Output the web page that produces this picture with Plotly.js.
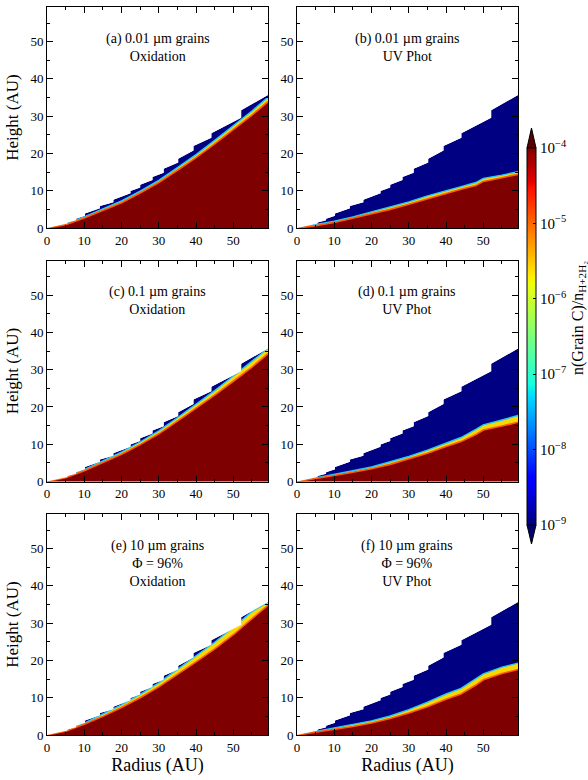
<!DOCTYPE html>
<html><head><meta charset="utf-8">
<script src="https://cdn.plot.ly/plotly-3.0.1.min.js"></script>
<style>html,body{margin:0;padding:0;background:#fff}</style>
</head><body><div id="chart" style="width:588px;height:780px"></div>
<script>
// ---- data ----
// disk surface (top of the model grid), shared by all panels
const surfaceR = [0, 5.5, 5.5, 7.8, 7.8, 10.2, 10.2, 14.2, 14.2, 17.8, 17.8, 22.4, 22.4, 25.0, 25.0, 28.3, 28.3, 31.3, 31.3, 35.2, 35.2, 39.3, 39.3, 44.1, 44.1, 52.1, 52.1, 59.3];
const surfaceZ = [0, 1.2, 1.5, 2.1, 2.5, 3.3, 3.9, 5.3, 5.9, 6.9, 7.6, 9.3, 9.9, 10.9, 11.6, 12.9, 13.7, 14.8, 15.9, 17.6, 18.6, 20.8, 22.0, 24.2, 25.4, 29.6, 31.6, 35.7];

// radii at which the depletion front was read
const radiiOx = [0, 5, 10, 15, 20, 25, 30, 35, 40, 45, 50, 55, 59.3];
const radiiUV = [0, 5, 10, 15, 20, 25, 30, 35, 40, 44, 48, 50, 55, 59.3];

// height where grains are still undepleted (top of dark red) and where full depletion starts (bottom of dark blue)
const lowA  = [0, 0.9, 2.7, 4.7, 6.8, 9.4, 12.2, 15.5, 18.9, 22.6, 26.4, 30.3, 33.9];
const highA = [0, 1.1, 3.0, 5.1, 7.3, 9.9, 12.8, 16.2, 19.7, 23.5, 27.4, 31.4, 35.1];
const lowC  = [0, 1.0, 2.9, 5.0, 7.3, 9.9, 12.8, 16.2, 19.6, 23.2, 26.9, 30.7, 34.3];
const highC = [0, 1.2, 3.2, 5.5, 7.9, 10.6, 13.6, 17.1, 20.7, 24.4, 28.3, 32.2, 35.7];
const lowE  = [0, 1.0, 2.9, 5.0, 7.4, 10.0, 12.9, 16.2, 19.6, 23.1, 26.9, 31.2, 34.8];
const highE = [0, 1.2, 3.2, 5.6, 8.1, 10.9, 14.0, 17.6, 21.3, 24.9, 28.9, 33.1, 35.7];

const lowB  = [0, 0.6, 1.5, 2.6, 3.8, 5.0, 6.4, 7.9, 9.4, 10.4, 11.4, 12.5, 13.5, 14.4];
const highB = [0, 0.8, 1.8, 3.0, 4.3, 5.5, 7.0, 8.6, 10.1, 11.1, 12.2, 13.3, 14.2, 15.1];
const lowD  = [0, 0.7, 1.6, 2.5, 3.4, 4.6, 6.0, 7.6, 9.4, 10.7, 12.6, 13.8, 14.9, 15.9];
const highD = [0, 0.9, 1.9, 2.9, 3.9, 5.2, 6.7, 8.4, 10.4, 11.8, 14.0, 15.2, 16.5, 17.7];
const lowF  = [0, 0.7, 1.5, 2.3, 3.2, 4.4, 5.9, 7.6, 9.6, 11.0, 13.4, 14.8, 16.5, 17.6];
const highF = [0, 0.9, 1.8, 2.8, 3.8, 5.1, 6.8, 8.8, 11.0, 12.5, 15.0, 16.4, 18.2, 19.3];

const panelLabels = [
  "(a) 0.01 µm grains<br>Oxidation",
  "(b) 0.01 µm grains<br>UV Phot",
  "(c) 0.1 µm grains<br>Oxidation",
  "(d) 0.1 µm grains<br>UV Phot",
  "(e) 10 µm grains<br>Φ = 96%<br>Oxidation",
  "(f) 10 µm grains<br>Φ = 96%<br>UV Phot"
];
const axisTicks = [0, 10, 20, 30, 40, 50];
const cbTickVals = [-9, -8, -7, -6, -5, -4];
const cbTickText = ["10<sup>−9</sup>", "10<sup>−8</sup>", "10<sup>−7</sup>", "10<sup>−6</sup>", "10<sup>−5</sup>", "10<sup>−4</sup>"];

// ---- styling ----
const FONT = "Liberation Serif, DejaVu Serif, serif";
const BLUE = "rgb(0,0,130)";
const RED = "rgb(127,0,0)";
const JET = [[0,'rgb(0,0,127)'],[0.11,'rgb(0,0,255)'],[0.125,'rgb(0,0,255)'],[0.34,'rgb(0,219,255)'],[0.35,'rgb(0,230,247)'],[0.375,'rgb(21,255,226)'],[0.64,'rgb(239,255,8)'],[0.65,'rgb(247,245,0)'],[0.66,'rgb(255,236,0)'],[0.89,'rgb(255,19,0)'],[0.91,'rgb(232,0,0)'],[1,'rgb(127,0,0)']];
const AXMAX = 59.3;

const panels = [
  {r: radiiOx, lo: lowA, hi: highA},
  {r: radiiUV, lo: lowB, hi: highB},
  {r: radiiOx, lo: lowC, hi: highC},
  {r: radiiUV, lo: lowD, hi: highD},
  {r: radiiOx, lo: lowE, hi: highE},
  {r: radiiUV, lo: lowF, hi: highF}
];

const W = 588, H = 780;
const colX = [[47, 268], [297, 518]];
const rowY = [[7, 228], [260.5, 481.5], [514, 735]];

const traces = [];
const layout = {
  width: W, height: H, margin: {l:0, r:0, t:0, b:0},
  paper_bgcolor: 'white', plot_bgcolor: 'white',
  font: {family: FONT, color: 'black', size: 13},
  showlegend: false, annotations: [], shapes: []
};

panels.forEach((p, i) => {
  const k = i + 1;
  const xa = k === 1 ? 'x' : 'x' + k;
  const ya = k === 1 ? 'y' : 'y' + k;
  const col = i % 2, row = Math.floor(i / 2);
  const common = {xaxis: xa, yaxis: ya, mode: 'lines', hoverinfo: 'skip', showlegend: false};
  // fully depleted region (blue) up to the grid surface
  traces.push(Object.assign({x: surfaceR, y: surfaceZ, fill: 'tozeroy', fillcolor: BLUE, line: {width: 0, color: BLUE}}, common));
  // transition band
  traces.push(Object.assign({x: p.r, y: p.hi, fill: 'tozeroy', fillcolor: 'rgb(250,215,0)', line: {width: 1.4, color: 'rgb(40,200,240)'}}, common));
  // undepleted region (dark red)
  traces.push(Object.assign({x: p.r, y: p.lo, fill: 'tozeroy', fillcolor: RED, line: {width: 1.6, color: 'rgb(255,90,0)'}}, common));
  // white above the grid surface
  traces.push(Object.assign({x: surfaceR.concat([AXMAX + 5, AXMAX + 5, -1, -1]), y: surfaceZ.concat([surfaceZ[surfaceZ.length-1], AXMAX + 5, AXMAX + 5, 0]), fill: 'toself', fillcolor: 'white', line: {width: 0, color: 'white'}}, common));

  const axBase = {
    range: [0, AXMAX], tickvals: axisTicks, ticks: 'inside', ticklen: 6, tickwidth: 1, tickcolor: 'black',
    mirror: 'allticks', showline: true, linecolor: 'black', linewidth: 1, showgrid: false, zeroline: false,
    minor: {dtick: 5, tick0: 0, ticks: 'inside', ticklen: 3, tickcolor: 'black', showgrid: false},
    tickfont: {size: 13, family: FONT}, fixedrange: true
  };
  const xk = k === 1 ? 'xaxis' : 'xaxis' + k;
  const yk = k === 1 ? 'yaxis' : 'yaxis' + k;
  layout[xk] = Object.assign({}, axBase, {anchor: ya, domain: [colX[col][0] / W, colX[col][1] / W]});
  layout[yk] = Object.assign({}, axBase, {anchor: xa, domain: [1 - rowY[row][1] / H, 1 - rowY[row][0] / H]});
  if (row === 2) layout[xk].title = {text: 'Radius (AU)', font: {size: 18, family: FONT}, standoff: 4};
  if (col === 0) layout[yk].title = {text: 'Height (AU)', font: {size: 17, family: FONT}, standoff: 7};

  layout.annotations.push({
    text: panelLabels[i], xref: xa + ' domain', yref: ya + ' domain', x: 0.5, y: 1 - 22 / 221,
    xanchor: 'center', yanchor: 'top', showarrow: false, font: {size: 14, family: FONT}
  });
});

// colour bar
traces.push({
  x: [-10, -10, -10, -10, -10, -10], y: [-10, -10, -10, -10, -10, -10], xaxis: 'x', yaxis: 'y',
  mode: 'markers', hoverinfo: 'skip', showlegend: false,
  marker: {size: 1, color: cbTickVals, cmin: -9, cmax: -4, colorscale: JET, showscale: true,
    colorbar: {x: 527 / W, xanchor: 'left', xpad: 0, y: 1 - 336.5 / H, yanchor: 'middle', ypad: 0,
      len: 377, lenmode: 'pixels', thickness: 9, thicknessmode: 'pixels',
      outlinewidth: 1, outlinecolor: 'black', tickvals: cbTickVals, ticktext: cbTickText,
      ticks: 'inside', ticklen: 3, tickcolor: 'black', tickfont: {size: 15, family: FONT}}}
});

// extension triangles of the colour bar
const px = v => v / W, py = v => 1 - v / H;
layout.shapes.push({type: 'path', xref: 'paper', yref: 'paper',
  path: `M ${px(527)} ${py(148)} L ${px(536)} ${py(148)} L ${px(531.5)} ${py(128)} Z`,
  fillcolor: 'rgb(90,0,0)', line: {color: 'black', width: 1}});
layout.shapes.push({type: 'path', xref: 'paper', yref: 'paper',
  path: `M ${px(527)} ${py(525)} L ${px(536)} ${py(525)} L ${px(531.5)} ${py(544)} Z`,
  fillcolor: 'rgb(0,0,110)', line: {color: 'black', width: 1}});

layout.annotations.push({
  text: 'n(Grain C)/n<sub>H+2H₂</sub>', xref: 'paper', yref: 'paper', x: 578 / W, y: 1 - 318 / H,
  xanchor: 'center', yanchor: 'middle', textangle: -90, showarrow: false, font: {size: 16, family: FONT}
});

Plotly.newPlot('chart', traces, layout, {staticPlot: true, displayModeBar: false});
</script></body></html>
